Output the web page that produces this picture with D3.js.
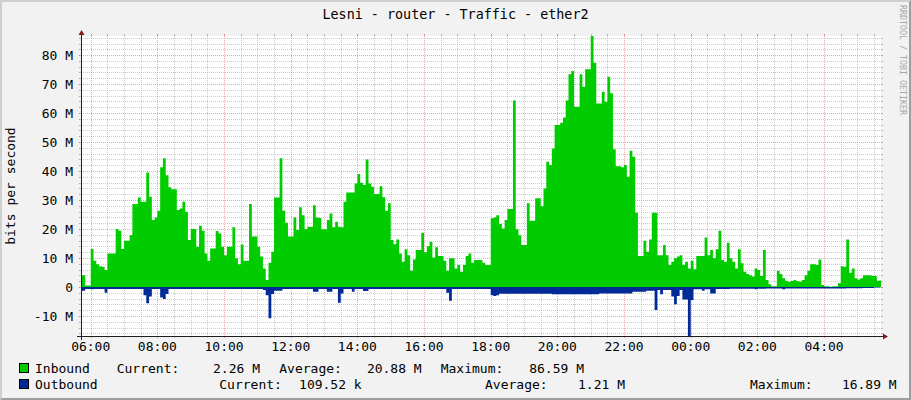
<!DOCTYPE html>
<html><head><meta charset="utf-8">
<script src="https://cdn.jsdelivr.net/npm/d3@7"></script>
<style>
body{margin:0;background:#f2f2f2}
svg{display:block}
text{font-family:"DejaVu Sans Mono","Liberation Mono",monospace;fill:#000}
</style>
</head><body>
<svg id="chart" width="911" height="400"></svg>
<script>
// ---------------- data ----------------
const chartTitle = "Lesni - router - Traffic - ether2";
const yAxisTitle = "bits per second";
const watermark = "RRDTOOL / TOBI OETIKER";
// 5-minute samples starting 05:40 (values in Mbit/s)
const sampleStart = [5, 40];
const sampleMinutes = 5;
const inbound = [
  4.1, 4.1, 0.5, 0.5, 13.1, 9.1, 7.9, 7.2, 7.0, 5.9, 11.6, 11.6,
  11.6, 20, 19.4, 13.1, 16, 16, 17.9, 28.6, 28.6, 30.9, 29.4, 29.4,
  39.5, 31.1, 23.1, 24, 26.3, 41.3, 44.4, 38.6, 34.4, 33.7, 33.7, 26.6,
  27.1, 29.4, 26, 16.2, 20, 20, 13.9, 21.1, 19.4, 11.6, 9.1, 13.3,
  13.3, 19.3, 18.5, 13.9, 11, 13.9, 13.9, 20.6, 9.9, 7.9, 14.7, 9.1,
  9.1, 28.6, 17.4, 17.4, 13.9, 10.5, 6.4, 2.4, 8.4, 12.2, 30.9, 30.9,
  44.4, 26.3, 22.2, 17.4, 17.4, 24, 19.7, 27.5, 24.8, 19.9, 20.8, 20.8,
  28.2, 24, 23.8, 19.9, 19.9, 23.1, 25.4, 20.6, 22.5, 20.8, 20.6, 29.4,
  32.6, 32.6, 32.6, 35.7, 39, 36, 35.2, 44, 35.7, 34.6, 32.1, 32.1,
  34.8, 31, 26.3, 28.9, 16.2, 14.8, 16.4, 11.6, 8.7, 13, 11, 5.6,
  9.5, 12.8, 12.8, 18.7, 12, 14.1, 15.6, 10.2, 13.7, 10.7, 10.7, 9.1,
  5.6, 9.9, 9.9, 6.4, 7.6, 5.3, 7.6, 10.7, 11.6, 8.4, 9.3, 9.3,
  9.3, 8.4, 7.6, 7.6, 23.7, 24, 24.8, 21.7, 20.2, 23.1, 26.9, 26.9,
  64.3, 19.9, 17.9, 14.5, 14.5, 28.9, 22.9, 22.9, 30.6, 30.6, 27.9, 34,
  43.2, 42.1, 47.8, 55.9, 55.9, 56.7, 58.5, 64.3, 73.4, 74.5, 62.2, 62.2,
  73.4, 69.1, 75.1, 75.1, 86.59, 77.4, 63.3, 63.3, 67.4, 63.9, 72.5, 66.8,
  47.5, 41.7, 41.7, 41.3, 42.1, 38, 47, 44.9, 25.6, 10.7, 10.7, 16,
  12.2, 16.4, 25.6, 25.6, 11, 11, 14.5, 11, 7.6, 8.7, 9.9, 10.5,
  11, 7.6, 8.7, 6.4, 9.1, 6.1, 10.7, 10.7, 10.7, 17.1, 11, 12.8,
  9.9, 13, 19.4, 9.3, 8.7, 15.3, 9.9, 8.7, 6.4, 13, 8.2, 5.3,
  4.5, 4.1, 3.6, 6.4, 5.9, 3.8, 12.8, 2.4, 1, 0.3, 0.3, 5.6,
  4.5, 3, 2.2, 1.8, 2.1, 2.4, 2, 1.8, 2.4, 4.1, 5.6, 7.9,
  7.9, 7.6, 9.5, 0.7, 0.3, 0.3, 0.1, 0.3, 0.3, 1.3, 7.2, 7,
  16.4, 4.9, 6.4, 3, 2.6, 3, 4.1, 4.1, 4.1, 3.8, 3.8, 2.2,
  2.26
];
const outbound = [
  1.3, 1.3, 0.7, 0.7, 0.8, 0.7, 0.7, 0.7, 0.7, 2.0, 0.7, 0.7,
  0.7, 0.7, 0.7, 0.7, 0.7, 0.7, 0.7, 0.7, 0.7, 0.7, 0.7, 2.8,
  5.6, 3.3, 0.7, 0.7, 0.7, 3.6, 4.1, 2.4, 0.7, 0.7, 0.7, 0.7,
  0.7, 0.7, 0.7, 0.7, 0.7, 0.7, 0.7, 0.7, 0.7, 0.7, 0.7, 0.7,
  0.7, 0.7, 0.7, 0.7, 0.7, 0.7, 0.7, 0.7, 0.7, 0.7, 0.7, 0.7,
  0.7, 0.7, 0.7, 0.7, 0.7, 0.7, 1.0, 2.8, 10.8, 2.4, 1.3, 1.3,
  1.3, 0.7, 0.7, 0.7, 0.7, 0.7, 0.7, 0.7, 0.7, 0.7, 0.7, 0.7,
  1.6, 1.6, 0.7, 0.7, 0.7, 1.6, 1.6, 0.7, 0.7, 5.4, 2.2, 0.7,
  0.7, 0.7, 1.6, 0.7, 0.7, 0.7, 1.4, 1.4, 0.7, 0.7, 0.7, 0.7,
  0.7, 0.7, 0.7, 0.7, 0.7, 0.7, 0.7, 0.7, 0.7, 0.7, 0.7, 0.7,
  0.7, 0.7, 0.7, 0.7, 0.7, 0.7, 0.7, 0.7, 0.7, 0.7, 0.7, 0.7,
  2.0, 4.7, 0.7, 0.7, 0.7, 0.7, 0.7, 0.7, 0.7, 0.7, 0.7, 0.7,
  0.7, 0.7, 0.7, 0.7, 2.8, 3.1, 2.8, 2.3, 2.3, 2.3, 2.3, 2.3,
  2.3, 2.3, 2.3, 2.3, 2.3, 2.3, 2.3, 2.3, 2.3, 2.3, 2.3, 2.3,
  2.3, 2.3, 2.5, 2.5, 2.5, 2.5, 2.5, 2.5, 2.5, 2.5, 2.5, 2.5,
  2.5, 2.5, 2.5, 2.5, 2.5, 2.5, 2.5, 2.2, 2.2, 2.2, 2.2, 2.2,
  2.2, 2.2, 2.2, 2.2, 2.2, 2.2, 2.2, 1.6, 1.6, 1.6, 1.6, 1.6,
  1.3, 1.3, 1.3, 7.9, 1.0, 2.5, 1.0, 1.0, 1.0, 3.3, 5.9, 3.1,
  1.0, 4.3, 4.3, 16.89, 4.5, 0.8, 0.8, 0.8, 1.3, 0.8, 0.8, 2.2,
  2.2, 0.7, 0.7, 0.7, 0.7, 0.7, 0.6, 0.6, 0.6, 0.6, 0.6, 0.6,
  0.6, 0.6, 0.6, 0.8, 0.6, 0.6, 0.6, 0.5, 0.5, 0.5, 0.5, 0.5,
  0.5, 0.8, 0.5, 0.5, 0.5, 0.5, 0.5, 0.5, 0.5, 0.5, 0.5, 0.5,
  0.5, 0.5, 0.5, 0.5, 0.5, 0.5, 0.5, 0.5, 0.5, 0.5, 0.5, 0.5,
  0.4, 0.4, 0.4, 0.4, 0.4, 0.4, 0.3, 0.3, 0.3, 0.3, 0.2, 0.2,
  0.11
];
const yMajorTicks = [-10, 0, 10, 20, 30, 40, 50, 60, 70, 80];
const yMin = -16.89, yMax = 86.59;
const legendRows = [
  {name: "Inbound",  color: "#00CC00",
   items: [["Current:", "2.26 M"], ["Average:", "20.88 M"], ["Maximum:", "86.59 M"]]},
  {name: "Outbound", color: "#002A97",
   items: [["Current:", "109.52 k"], ["Average:", "1.21 M"], ["Maximum:", "16.89 M"]]}
];

// ---------------- layout ----------------
const W = 911, H = 400;
const X0 = 81, X1 = 881, Y0 = 336, Y1 = 36;
const legendLabelX = [[116.7, 260, 279.3, 421.7, 440.7, 584], [219.3, 361.7, 485, 625, 750, 896.7]];
const legendY = [373, 389];

const svg = d3.select("#chart");
const base = Date.UTC(2024, 0, 1, sampleStart[0], sampleStart[1]);
const minute = 60000;
const t0 = new Date(base + 2.5 * minute);
const t1 = new Date(t0.getTime() + 24 * 60 * minute);
const x = d3.scaleUtc().domain([t0, t1]).range([X0, X1]);
const y = d3.scaleLinear().domain([yMin, yMax]).range([Y0, Y1]);

// background + shading
svg.append("rect").attr("width", W).attr("height", H).attr("fill", "#f2f2f2");
svg.append("path").attr("d", `M0,0 L${W},0 L${W-2},2 L2,2 L2,${H-2} L0,${H} Z`).attr("fill", "#cfcfcf");
svg.append("path").attr("d", `M${W},0 L${W},${H} L0,${H} L2,${H-2} L${W-2},${H-2} L${W-2},2 Z`).attr("fill", "#9e9e9e");
svg.append("rect").attr("x", X0).attr("y", Y1).attr("width", X1 - X0).attr("height", Y0 - Y1).attr("fill", "#ffffff");

const gridMinor = "rgba(143,143,143,0.45)";
const gridMajor = "rgba(222,79,79,0.5)";
const grid = svg.append("g").attr("shape-rendering", "crispEdges");

// horizontal grid
const yMinor = d3.range(-16, 87, 2).filter(v => v % 10 !== 0);
function hLine(v, col) {
  const yy = Math.round(y(v)) + 0.5;
  grid.append("line").attr("x1", X0 - 2).attr("x2", X1 + 2).attr("y1", yy).attr("y2", yy)
    .attr("stroke", col).attr("stroke-dasharray", "1,1");
  grid.append("line").attr("x1", X0 - 2).attr("x2", X0).attr("y1", yy).attr("y2", yy).attr("stroke", col);
  grid.append("line").attr("x1", X1).attr("x2", X1 + 2).attr("y1", yy).attr("y2", yy).attr("stroke", col);
}
yMinor.forEach(v => hLine(v, gridMinor));
yMajorTicks.forEach(v => hLine(v, gridMajor));

// vertical grid
const xMinorT = x.ticks(d3.utcMinute.every(30));
const xMajorT = x.ticks(d3.utcHour.every(2));
function vLine(t, col) {
  const xx = Math.round(x(t)) + 0.5;
  grid.append("line").attr("x1", xx).attr("x2", xx).attr("y1", Y1 - 2).attr("y2", Y0 + 2)
    .attr("stroke", col).attr("stroke-dasharray", "1,1");
  grid.append("line").attr("x1", xx).attr("x2", xx).attr("y1", Y1 - 2).attr("y2", Y1).attr("stroke", col);
  grid.append("line").attr("x1", xx).attr("x2", xx).attr("y1", Y0).attr("y2", Y0 + 2).attr("stroke", col);
}
xMinorT.filter(t => t.getUTCMinutes() !== 0 || t.getUTCHours() % 2 !== 0).forEach(t => vLine(t, gridMinor));
xMajorT.forEach(t => vLine(t, gridMajor));

// data areas
svg.append("clipPath").attr("id", "plotclip").append("rect")
  .attr("x", X0).attr("y", Y1).attr("width", X1 - X0).attr("height", Y0 - Y1);
const tOf = i => new Date(base + i * sampleMinutes * minute);
const inPts = inbound.map((v, i) => [tOf(i), v]).concat([[tOf(inbound.length), inbound[inbound.length - 1]]]);
const outPts = outbound.map((v, i) => [tOf(i), -v]).concat([[tOf(outbound.length), -outbound[outbound.length - 1]]]);
const area = d3.area().curve(d3.curveStepAfter).x(d => x(d[0])).y0(y(0)).y1(d => y(d[1]));
const plot = svg.append("g").attr("clip-path", "url(#plotclip)");
plot.append("path").attr("d", area(inPts)).attr("fill", "#00CC00");
plot.append("path").attr("d", area(outPts)).attr("fill", "#002A97");

// axes
const axisCol = "#1f1f1f", arrowCol = "#801f1f";
svg.append("line").attr("x1", X0 - 4).attr("x2", X1 + 4).attr("y1", Y0 + 0.5).attr("y2", Y0 + 0.5)
  .attr("stroke", axisCol).attr("shape-rendering", "crispEdges");
svg.append("line").attr("x1", X0 + 0.5).attr("x2", X0 + 0.5).attr("y1", Y0 + 4).attr("y2", Y1 - 4)
  .attr("stroke", axisCol).attr("shape-rendering", "crispEdges");
svg.append("path").attr("d", `M${X1 + 2},${Y0 - 2.5} L${X1 + 7},${Y0 + 0.5} L${X1 + 2},${Y0 + 3.5} Z`).attr("fill", arrowCol);
svg.append("path").attr("d", `M${X0 - 2.5},${Y1 - 1} L${X0 + 3.5},${Y1 - 1} L${X0 + 0.5},${Y1 - 6} Z`).attr("fill", arrowCol);

// y tick labels
svg.append("g").selectAll("text").data(yMajorTicks).join("text")
  .attr("x", 73).attr("y", d => y(d) + 4.5).attr("text-anchor", "end")
  .attr("font-size", 13).text(d => d === 0 ? "0" : d + " M");

// x tick labels
const fmt = d3.utcFormat("%H:%M");
svg.append("g").selectAll("text").data(xMajorT).join("text")
  .attr("x", d => x(d)).attr("y", 351).attr("text-anchor", "middle")
  .attr("font-size", 13).text(d => fmt(d));

// title
svg.append("text").attr("x", W / 2).attr("y", 19).attr("text-anchor", "middle")
  .attr("font-size", 13.4).text(chartTitle);

// y axis title
svg.append("text").attr("transform", `translate(15,186) rotate(-90)`).attr("text-anchor", "middle")
  .attr("font-size", 13).text(yAxisTitle);

// watermark
svg.append("text").attr("transform", `translate(900,5) rotate(90)`)
  .attr("font-size", 8.3).style("fill", "#a8a8a8").text(watermark);

// legend
legendRows.forEach((row, r) => {
  const by = legendY[r];
  svg.append("rect").attr("x", 19.5).attr("y", by - 9.5).attr("width", 9).attr("height", 9)
    .attr("fill", row.color).attr("stroke", "#000").attr("stroke-width", 1);
  svg.append("text").attr("x", 35).attr("y", by).attr("font-size", 13).text(row.name);
  row.items.forEach((it, j) => {
    svg.append("text").attr("x", legendLabelX[r][2 * j]).attr("y", by).attr("font-size", 13).text(it[0]);
    svg.append("text").attr("x", legendLabelX[r][2 * j + 1]).attr("y", by).attr("font-size", 13)
      .attr("text-anchor", "end").text(it[1]);
  });
});
</script>
</body></html>
